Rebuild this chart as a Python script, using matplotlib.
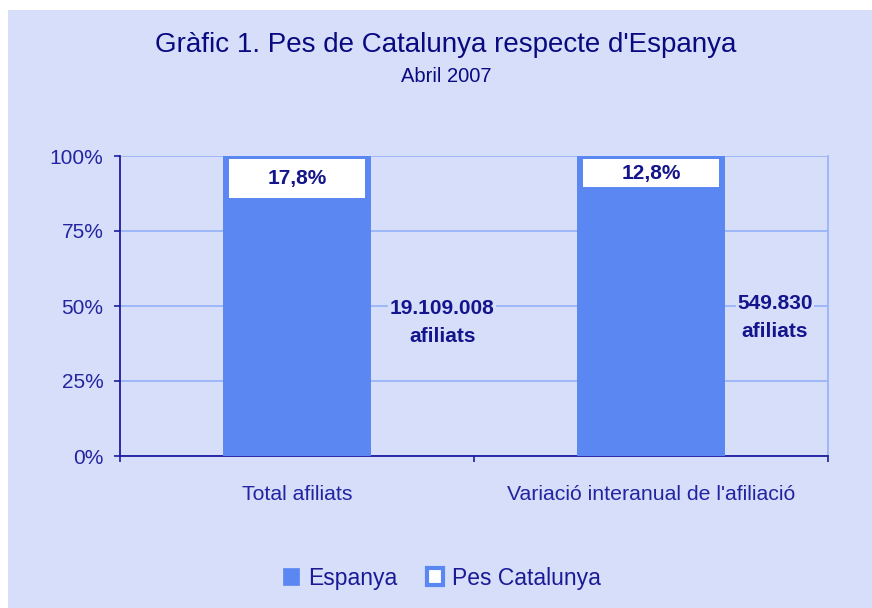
import numpy as np
import matplotlib
matplotlib.use("Agg")
import matplotlib.pyplot as plt
from matplotlib.patches import Rectangle, Patch

# data
categories = ["Total afiliats", "Variació interanual de l'afiliació"]
espanya = np.array([100.0, 100.0])
catalunya = np.array([17.8, 12.8])
pct_labels = ["17,8%", "12,8%"]
side_labels = ["19.109.008\nafiliats", "549.830\nafiliats"]
yticks = [0, 25, 50, 75, 100]

# 100% stacked, as the original spreadsheet chart does it
total = espanya + catalunya
esp_share = espanya / total * 100
cat_share = catalunya / total * 100

BG = "#D6DEFA"
BLUE = "#5B87F2"
GRID = "#9AB4F8"
NAVY = "#14148C"
AXIS = "#1C1CA0"

plt.rcParams["font.family"] = ["Liberation Sans", "DejaVu Sans"]

fig = plt.figure(figsize=(8.72, 6.08), dpi=100)
fig.patch.set_facecolor("white")
# lavender chart area (the picture has a thin white margin top/left)
fig.patches.append(Rectangle((8 / 872, 0), 1, 1 - 10 / 608, transform=fig.transFigure,
                             facecolor=BG, edgecolor="none", zorder=-10))

ax = fig.add_axes([120 / 872, 1 - 456 / 608, 708 / 872, 300 / 608])
ax.set_facecolor(BG)

x = np.arange(len(categories))
w = 0.4
ax.bar(x, esp_share, w, color=BLUE, edgecolor=BLUE, linewidth=4.3, zorder=3)
ax.bar(x, cat_share, w, bottom=esp_share, color="white", edgecolor=BLUE,
       linewidth=4.3, zorder=3)

for i in range(len(x)):
    ax.text(x[i], esp_share[i] + cat_share[i] / 2, pct_labels[i], ha="center", va="center",
            fontsize=15, fontweight="bold", color=NAVY, zorder=4)

ax.text(0.41, 44.5, side_labels[0], ha="center", va="center", fontsize=15,
        fontweight="bold", color=NAVY, linespacing=1.6, zorder=4,
        bbox=dict(facecolor=BG, edgecolor="none", pad=1))
ax.text(1.35, 46.3, side_labels[1], ha="center", va="center", fontsize=15,
        fontweight="bold", color=NAVY, linespacing=1.6, zorder=4,
        bbox=dict(facecolor=BG, edgecolor="none", pad=1))

ax.set_xlim(-0.5, 1.5)
ax.set_ylim(0, 100)
ax.set_yticks(yticks)
ax.set_yticklabels([f"{t}%" for t in yticks])
ax.yaxis.grid(True, color=GRID, linewidth=1.3, zorder=0)
ax.set_axisbelow(True)

ax.set_xticks([-0.5, 0.5, 1.5], minor=False)
ax.set_xticklabels([])
ax.set_xticks(x, minor=True)
ax.set_xticklabels(categories, minor=True)
ax.tick_params(axis="x", which="major", direction="out", length=4.5, color=AXIS, width=1.2)
ax.tick_params(axis="x", which="minor", length=0, pad=21, labelsize=15.3, labelcolor="#2424A0")
ax.tick_params(axis="y", direction="out", length=4.5, color=AXIS, width=1.2,
               labelsize=15, labelcolor="#2424A0", pad=7.5)

for s in ["left", "bottom"]:
    ax.spines[s].set_color(AXIS)
    ax.spines[s].set_linewidth(1.3)
ax.spines["top"].set_visible(False)
ax.spines["right"].set_color(GRID)
ax.spines["right"].set_linewidth(1.3)

fig.text(446 / 872, 1 - 45 / 608, "Gràfic 1. Pes de Catalunya respecte d'Espanya",
         ha="center", va="center", fontsize=20, color="#0A0A80")
fig.text(446 / 872, 1 - 77 / 608, "Abril 2007", ha="center", va="center",
         fontsize=14.5, color="#0A0A80")

handles = [Patch(facecolor=BLUE, edgecolor=BLUE, linewidth=0.5),
           Patch(facecolor="white", edgecolor=BLUE, linewidth=3)]
leg = fig.legend(handles, ["Espanya", "Pes Catalunya"], loc="center",
                 bbox_to_anchor=(442 / 872, 1 - 578 / 608), ncol=2, frameon=False,
                 fontsize=16.5, handlelength=0.7, handleheight=0.7, handletextpad=0.4,
                 columnspacing=1.3)
for t in leg.get_texts():
    t.set_color("#1A1A96")

fig.savefig("out.png", dpi=100)
